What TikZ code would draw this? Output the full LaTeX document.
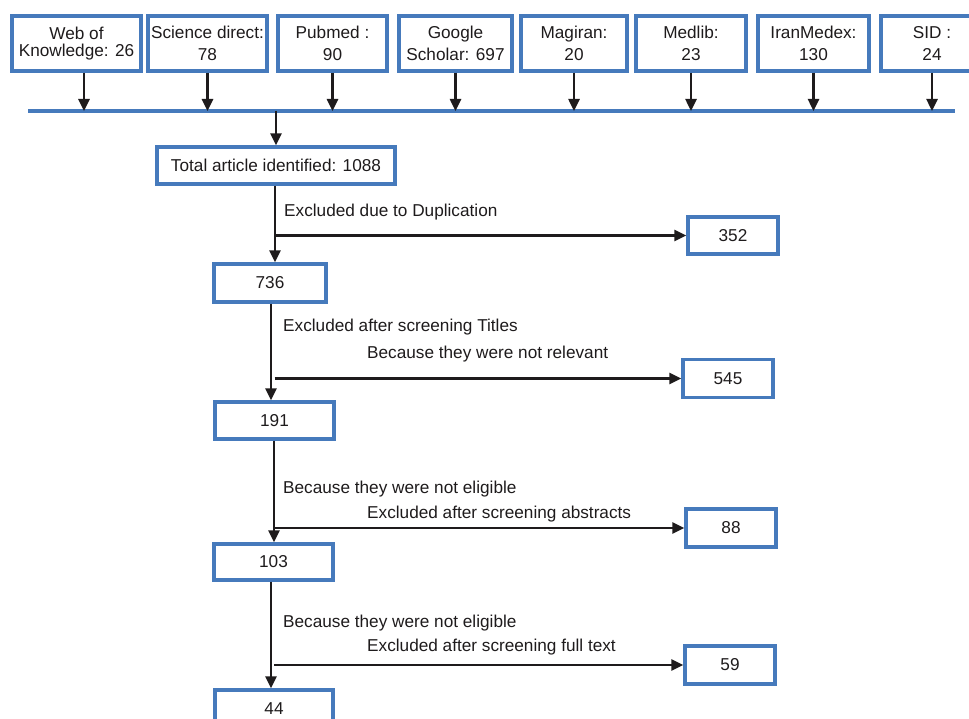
\documentclass[tikz,border=0pt]{standalone}
\usepackage{fontspec}
\setmainfont{Liberation Sans}
\usetikzlibrary{arrows.meta}
\definecolor{boxblue}{RGB}{70,122,188}
\definecolor{ink}{RGB}{30,27,28}
\begin{document}
\begin{tikzpicture}[x=1pt,y=-1pt,
  every node/.style={font=\fontsize{17.2}{22}\selectfont, text=ink},
  bx/.style={draw=boxblue, line width=3.2pt, inner sep=0pt, align=center},
  arr/.style={draw=ink, line width=2.5pt, -{Triangle[length=12pt,width=11pt]}},
  bus/.style={draw=boxblue, line width=3.2pt},
  lbl/.style={anchor=west, inner sep=0pt}]
\useasboundingbox (0,0) rectangle (969,719);
\begin{scope}
\clip (0,0) rectangle (969,719);
% top sources
\node[bx, minimum width=129pt, minimum height=55pt] (wok) at (76.5,43.5) {Web of\\[-5pt]Knowledge: 26};
\node[bx, minimum width=119pt, minimum height=55pt] (sd) at (207.5,43.5) {Science direct:\\78};
\node[bx, minimum width=109pt, minimum height=55pt] (pub) at (332.5,43.5) {Pubmed :\\90};
\node[bx, minimum width=113pt, minimum height=55pt] (gs) at (455.5,43.5) {Google\\Scholar: 697};
\node[bx, minimum width=106pt, minimum height=55pt] (mag) at (574,43.5) {Magiran:\\20};
\node[bx, minimum width=110pt, minimum height=55pt] (med) at (691,43.5) {Medlib:\\23};
\node[bx, minimum width=111pt, minimum height=55pt] (iran) at (813.5,43.5) {IranMedex:\\130};
\node[bx, minimum width=102pt, minimum height=55pt] (sid) at (932,43.5) {SID :\\24};

% bus line
\coordinate (busL) at (28,111);
\coordinate (busR) at (955,111);
\draw[bus] (busL) -- (busR);

\draw[arr] ([xshift=7.5pt]wok.south) -- ([xshift=7.5pt]wok.south |- busL);
\draw[arr] (sd.south) -- (sd.south |- busL);
\draw[arr] (pub.south) -- (pub.south |- busL);
\draw[arr] (gs.south) -- (gs.south |- busL);
\draw[arr] (mag.south) -- (mag.south |- busL);
\draw[arr] (med.south) -- (med.south |- busL);
\draw[arr] (iran.south) -- (iran.south |- busL);
\draw[arr] (sid.south) -- (sid.south |- busL);

% main column
\node[bx, minimum width=238pt, minimum height=37pt] (total) at (276,165.5) {Total article identified: 1088};
\node[bx, minimum width=112pt, minimum height=38pt] (n736) at (270,283) {736};
\node[bx, minimum width=119pt, minimum height=37pt] (n191) at (274.5,420.5) {191};
\node[bx, minimum width=119pt, minimum height=36pt] (n103) at (273.5,562) {103};
\node[bx, minimum width=118pt, minimum height=37pt] (n44) at (274,708.5) {44};

% excluded boxes
\node[bx, minimum width=90pt, minimum height=37pt] (n352) at (733,235.5) {352};
\node[bx, minimum width=90pt, minimum height=38pt] (n545) at (728,378.5) {545};
\node[bx, minimum width=90pt, minimum height=38pt] (n88) at (731,528) {88};
\node[bx, minimum width=90pt, minimum height=38pt] (n59) at (730,665) {59};

% vertical flow
\draw[arr] (total.north |- busL) -- (total.north);
\draw[arr] ([xshift=-1pt]total.south) -- ([xshift=-1pt]total.south |- n736.north);
\draw[arr] ([xshift=1pt]n736.south) -- ([xshift=1pt]n736.south |- n191.north);
\draw[arr] ([xshift=-0.5pt]n191.south) -- ([xshift=-0.5pt]n191.south |- n103.north);
\draw[arr] ([xshift=-2.5pt]n103.south) -- ([xshift=-2.5pt]n103.south |- n44.north);

% horizontal branches
\draw[arr] (n352.west -| total.south) -- (n352.west);
\draw[arr] (n545.west -| n191.north) -- (n545.west);
\draw[arr] (n88.west -| n191.south) -- (n88.west);
\draw[arr] (n59.west -| n44.north) -- (n59.west);

% labels
\node[lbl] (l1) at (284,212) {Excluded due to Duplication};
\node[lbl] (l2) at (283,327) {Excluded after screening Titles};
\node[lbl] (l3) at (367,354) {Because they were not relevant};
\node[lbl] (l4) at (283,489) {Because they were not eligible};
\node[lbl] (l5) at (367,514) {Excluded after screening abstracts};
\node[lbl] (l6) at (283,623) {Because they were not eligible};
\node[lbl] (l7) at (367,647) {Excluded after screening full text};
\end{scope}
\end{tikzpicture}
\end{document}
